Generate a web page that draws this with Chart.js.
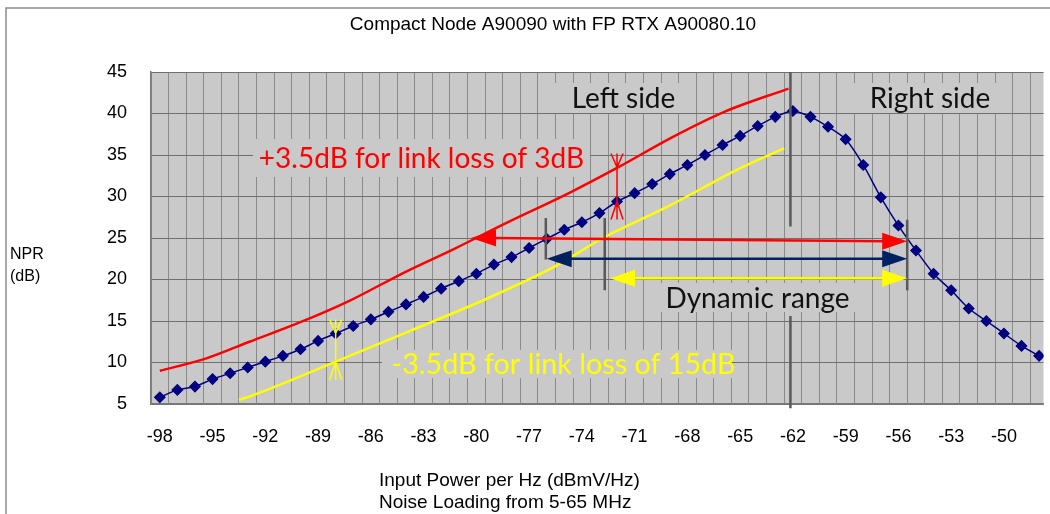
<!DOCTYPE html>
<html>
<head>
<meta charset="utf-8">
<script src="https://cdn.jsdelivr.net/npm/chart.js@4.4.0/dist/chart.umd.min.js"></script>
<style>
  html, body { margin: 0; padding: 0; background: #fff; overflow: hidden; }
  #wrap { width: 1050px; height: 514px; position: relative; }
</style>
</head>
<body>
<div id="wrap"><canvas id="npr"></canvas></div>
<script>
// measured NPR curve, one point per dBmV/Hz
const inputPower = [-98, -97, -96, -95, -94, -93, -92, -91, -90, -89, -88, -87, -86, -85, -84, -83, -82, -81, -80, -79,
  -78, -77, -76, -75, -74, -73, -72, -71, -70, -69, -68, -67, -66, -65, -64, -63, -62, -61, -60, -59,
  -58, -57, -56, -55, -54, -53, -52, -51, -50, -49, -48];
const nprMeasured = [5.8, 6.7, 7.1, 8.0, 8.7, 9.4, 10.1, 10.8, 11.6, 12.6, 13.5, 14.4, 15.2, 16.1, 17.0, 17.9, 18.9, 19.8, 20.7, 21.8,
  22.7, 23.8, 24.9, 26.0, 26.9, 28.0, 29.4, 30.4, 31.5, 32.7, 33.8, 35.0, 36.2, 37.3, 38.5, 39.6, 40.3, 39.6, 38.4, 36.9,
  33.8, 29.9, 26.5, 23.5, 20.7, 18.7, 16.5, 15.0, 13.5, 12.0, 10.8];

// +3.5 dB curve (link loss 3 dB)
const loss3Power = [-98, -95.35, -92.9, -89.9, -87.25, -84.05, -81.25, -78.4, -74.65, -71.95, -68.9, -65.9, -62.25];
const loss3Npr = [9.0, 10.5, 12.5, 14.95, 17.4, 20.9, 23.7, 26.7, 30.5, 33.5, 37.1, 40.2, 43.0];

// -3.5 dB curve (link loss 15 dB)
const loss15Power = [-93.5, -92.9, -88, -83.9, -79.6, -75.5, -72.8, -69.1, -65.1, -62.5];
const loss15Npr = [5.5, 5.9, 10.1, 13.7, 17.5, 21.6, 25.0, 28.8, 33.3, 35.8];

const xTickLabels = [-98, -95, -92, -89, -86, -83, -80, -77, -74, -71, -68, -65, -62, -59, -56, -53, -50];
const yTickLabels = [5, 10, 15, 20, 25, 30, 35, 40, 45];

// dynamic range arrows at NPR ~25 dB
const rangeArrows = [
  { from: -80.3, to: -55.5, y1: 25.0, y2: 24.6, color: '#ff0000' },
  { from: -76.0, to: -55.5, y1: 22.5, y2: 22.5, color: '#002060' },
  { from: -72.4, to: -55.5, y1: 20.15, y2: 20.15, color: '#ffff00' }
];
const rangeBars = [
  { x: -76.05, top: 27.4, bottom: 22.4 },
  { x: -72.7, top: 27.4, bottom: 18.7 },
  { x: -55.5, top: 27.2, bottom: 18.7 }
];
const offsetMarks = [
  { x: -72, upper: 33.5, lower: 29.4, color: '#ff0000' },
  { x: -88, upper: 13.5, lower: 10.1, color: '#ffff00' }
];

const plotBg = '#c9c9c9';

const textBoxes = [
  { text: 'Left side', x: 542, y: 83, w: 140, h: 30, cx: 623.5, color: '#111', size: 28 },
  { text: 'Right side', x: 842, y: 83, w: 158, h: 30, cx: 930, color: '#111', size: 28 },
  { text: '+3.5dB for link loss of 3dB', x: 253, y: 139, w: 337, h: 38, cx: 421.5, color: '#ff0000', size: 28 },
  { text: '-3.5dB for link loss of 15dB', x: 382, y: 350, w: 350, h: 28, cx: 563.5, color: '#ffff00', size: 28.7 },
  { text: 'Dynamic range', x: 660, y: 283, w: 200, h: 29, cx: 757.5, color: '#111', size: 28 }
];

const decor = {
  id: 'decor',
  beforeDraw(chart) {
    const { ctx, chartArea: a } = chart;
    ctx.save();
    ctx.fillStyle = plotBg;
    ctx.fillRect(a.left, a.top, a.right - a.left, a.bottom - a.top);
    ctx.strokeStyle = '#8c8c8c';
    ctx.lineWidth = 1.5;
    ctx.beginPath();
    ctx.moveTo(6, 520); ctx.lineTo(6, 8); ctx.lineTo(1060, 8);
    ctx.stroke();
    ctx.fillStyle = '#000';
    ctx.textBaseline = 'middle';
    ctx.font = '19px "Liberation Sans", Arial, sans-serif';
    ctx.textAlign = 'center';
    ctx.fillText('Compact Node A90090 with FP RTX A90080.10', 553, 25);
    ctx.textAlign = 'left';
    ctx.font = '19px "Liberation Sans", Arial, sans-serif';
    ctx.fillText('Input Power per Hz (dBmV/Hz)', 379, 481);
    ctx.fillText('Noise Loading from 5-65 MHz', 379, 503);
    ctx.font = '16px "Liberation Sans", Arial, sans-serif';
    ctx.fillText('NPR', 10, 255);
    ctx.fillText('(dB)', 10, 277);
    ctx.restore();
  },
  beforeDatasetsDraw(chart) {
    const { ctx } = chart;
    ctx.save();
    textBoxes.forEach(b => {
      ctx.fillStyle = plotBg;
      ctx.fillRect(b.x, b.y, b.w, b.h);
      ctx.fillStyle = b.color;
      ctx.font = b.size + 'px Lato, "Open Sans", sans-serif';
      ctx.textAlign = 'center';
      ctx.textBaseline = 'middle';
      ctx.fillText(b.text, b.cx, b.y + b.h / 2 + 1);
    });
    ctx.restore();
  },
  afterDatasetsDraw(chart) {
    const { ctx, scales: { x, y } } = chart;
    ctx.save();
    // -62 marker line
    ctx.strokeStyle = '#595959';
    ctx.lineWidth = 2.5;
    const xm = x.getPixelForValue(-62.14);
    ctx.beginPath();
    ctx.moveTo(xm, y.getPixelForValue(45)); ctx.lineTo(xm, y.getPixelForValue(26.4));
    ctx.moveTo(xm, y.getPixelForValue(15.6)); ctx.lineTo(xm, y.getPixelForValue(4.5));
    ctx.stroke();
    rangeBars.forEach(b => {
      const px = x.getPixelForValue(b.x);
      ctx.beginPath();
      ctx.moveTo(px, y.getPixelForValue(b.top));
      ctx.lineTo(px, y.getPixelForValue(b.bottom));
      ctx.stroke();
    });
    // double headed arrows
    rangeArrows.forEach(r => {
      const x1 = x.getPixelForValue(r.from), x2 = x.getPixelForValue(r.to);
      const p1 = y.getPixelForValue(r.y1), p2 = y.getPixelForValue(r.y2);
      ctx.strokeStyle = r.color;
      ctx.fillStyle = r.color;
      ctx.lineWidth = 2.5;
      ctx.beginPath();
      ctx.moveTo(x1 + 20, p1); ctx.lineTo(x2 - 20, p2);
      ctx.stroke();
      ctx.beginPath();
      ctx.moveTo(x1, p1); ctx.lineTo(x1 + 25, p1 - 8.5); ctx.lineTo(x1 + 25, p1 + 8.5); ctx.closePath();
      ctx.fill();
      ctx.beginPath();
      ctx.moveTo(x2, p2); ctx.lineTo(x2 - 25, p2 - 8.5); ctx.lineTo(x2 - 25, p2 + 8.5); ctx.closePath();
      ctx.fill();
    });
    // offset dimension marks
    offsetMarks.forEach(m => {
      const px = x.getPixelForValue(m.x);
      const top = y.getPixelForValue(m.upper), bot = y.getPixelForValue(m.lower);
      ctx.strokeStyle = m.color;
      ctx.lineWidth = 1.5;
      ctx.beginPath();
      ctx.moveTo(px, top - 14); ctx.lineTo(px, bot + 18);
      ctx.moveTo(px - 6, top - 14); ctx.lineTo(px, top); ctx.lineTo(px + 6, top - 14);
      ctx.moveTo(px - 6, bot + 18); ctx.lineTo(px, bot); ctx.lineTo(px + 6, bot + 18);
      ctx.stroke();
    });
    ctx.restore();
  }
};

const pairs = (xs, ys) => xs.map((v, i) => ({ x: v, y: ys[i] }));

new Chart(document.getElementById('npr'), {
  type: 'line',
  data: {
    datasets: [
      {
        label: 'NPR',
        data: pairs(inputPower, nprMeasured),
        borderColor: '#000080',
        backgroundColor: '#000080',
        borderWidth: 1.5,
        pointStyle: 'rectRot',
        pointRadius: 5,
        pointHoverRadius: 5,
        tension: 0.25
      },
      {
        label: '+3.5dB',
        data: pairs(loss3Power, loss3Npr),
        borderColor: '#ff0000',
        borderWidth: 2.5,
        pointRadius: 0,
        cubicInterpolationMode: 'monotone'
      },
      {
        label: '-3.5dB',
        data: pairs(loss15Power, loss15Npr),
        borderColor: '#ffff00',
        borderWidth: 2.5,
        pointRadius: 0,
        cubicInterpolationMode: 'monotone'
      }
    ]
  },
  options: {
    responsive: true,
    maintainAspectRatio: false,
    animation: false,
    layout: { padding: { top: 72, right: 0, bottom: 0, left: 0 } },
    plugins: { legend: { display: false }, tooltip: { enabled: false }, title: { display: false } },
    scales: {
      x: {
        type: 'linear',
        min: -98.5,
        max: -47.75,
        afterFit(s) { s.height = 110; s.paddingLeft = 0; s.paddingRight = 0; },
        afterBuildTicks(s) {
          const t = [];
          for (let v = -98.5; v <= -47.75; v += 0.5) t.push({ value: v });
          s.ticks = t;
        },
        grid: {
          drawTicks: false,
          lineWidth: 1,
          color: c => (c.tick && Number.isInteger(c.tick.value)) ? 'rgba(0,0,0,0)' : '#8a8a8a'
        },
        border: { color: '#7a7a7a', width: 1.5 },
        ticks: {
          autoSkip: false,
          maxRotation: 0,
          padding: 22,
          color: '#000',
          font: { family: '"Liberation Sans", Arial, sans-serif', size: 18 },
          callback: v => xTickLabels.includes(v) ? String(v) : ''
        }
      },
      y: {
        min: 5,
        max: 45,
        afterFit(s) { s.width = 151; s.paddingTop = 0; s.paddingBottom = 0; },
        afterBuildTicks(s) { s.ticks = yTickLabels.map(v => ({ value: v })); },
        grid: { drawTicks: false, color: '#6f6f6f', lineWidth: 1 },
        border: { color: '#7a7a7a', width: 1.5 },
        ticks: {
          padding: 24,
          color: '#000',
          font: { family: '"Liberation Sans", Arial, sans-serif', size: 18 }
        }
      }
    }
  },
  plugins: [decor]
});
</script>
</body>
</html>
